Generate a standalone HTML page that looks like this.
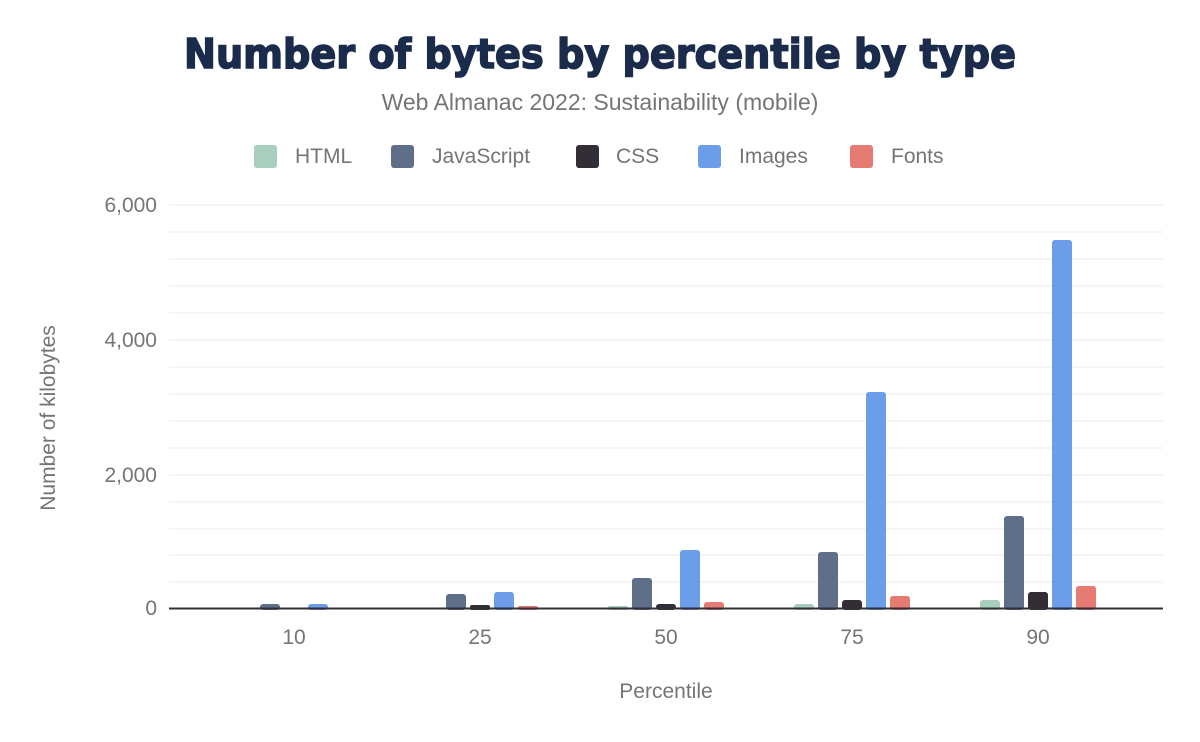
<!DOCTYPE html>
<html><head><meta charset="utf-8"><style>
body{margin:0;background:#fff;}
svg{display:block;font-family:"Liberation Sans",sans-serif;}
</style></head><body>
<svg width="1200" height="742" viewBox="0 0 1200 742" xmlns="http://www.w3.org/2000/svg">
<text x="600" y="68" text-anchor="middle" font-size="41" font-weight="900" fill="#1a2b4b" stroke="#1a2b4b" stroke-width="1.6" style="font-family:'DejaVu Sans','Liberation Sans',sans-serif" textLength="832" lengthAdjust="spacingAndGlyphs">Number of bytes by percentile by type</text>
<text x="600" y="110" text-anchor="middle" font-size="23" fill="#757575">Web Almanac 2022: Sustainability (mobile)</text>
<g font-size="21" fill="#757575">
<rect x="254" y="145" width="23" height="23" rx="3" fill="#a8cfbe"/><text x="295" y="163">HTML</text>
<rect x="391" y="145" width="23" height="23" rx="3" fill="#5f6f89"/><text x="432" y="163">JavaScript</text>
<rect x="576" y="145" width="23" height="23" rx="3" fill="#332d36"/><text x="616" y="163">CSS</text>
<rect x="698" y="145" width="23" height="23" rx="3" fill="#6b9de9"/><text x="739" y="163">Images</text>
<rect x="850" y="145" width="23" height="23" rx="3" fill="#e57b72"/><text x="891" y="163">Fonts</text>
</g>
<g stroke="#f2f2f2" stroke-width="1.5">
<line x1="169" x2="1163" y1="205" y2="205"/><line x1="169" x2="1163" y1="232" y2="232"/><line x1="169" x2="1163" y1="259" y2="259"/><line x1="169" x2="1163" y1="286" y2="286"/><line x1="169" x2="1163" y1="313" y2="313"/><line x1="169" x2="1163" y1="340" y2="340"/><line x1="169" x2="1163" y1="367" y2="367"/><line x1="169" x2="1163" y1="394" y2="394"/><line x1="169" x2="1163" y1="421" y2="421"/><line x1="169" x2="1163" y1="448" y2="448"/><line x1="169" x2="1163" y1="475" y2="475"/><line x1="169" x2="1163" y1="502" y2="502"/><line x1="169" x2="1163" y1="529" y2="529"/><line x1="169" x2="1163" y1="555" y2="555"/><line x1="169" x2="1163" y1="582" y2="582"/>
</g>
<g font-size="21" fill="#757575" text-anchor="end">
<text x="157" y="212">6,000</text><text x="157" y="347">4,000</text><text x="157" y="482">2,000</text><text x="157" y="615">0</text>
</g>
<text transform="translate(55,418) rotate(-90)" text-anchor="middle" font-size="21" fill="#757575">Number of kilobytes</text>
<g>
<rect x="260" y="604" width="20" height="6" rx="3" fill="#5f6f89"/>
<rect x="308" y="604" width="20" height="6" rx="3" fill="#6b9de9"/>
<rect x="446" y="594" width="20" height="16" rx="3" fill="#5f6f89"/>
<rect x="470" y="605" width="20" height="5" rx="2" fill="#332d36"/>
<rect x="494" y="592" width="20" height="18" rx="3" fill="#6b9de9"/>
<rect x="518" y="606" width="20" height="4" rx="2" fill="#e57b72"/>
<rect x="608" y="606" width="20" height="4" rx="2" fill="#a8cfbe"/>
<rect x="632" y="578" width="20" height="32" rx="3" fill="#5f6f89"/>
<rect x="656" y="604" width="20" height="6" rx="3" fill="#332d36"/>
<rect x="680" y="550" width="20" height="60" rx="3" fill="#6b9de9"/>
<rect x="704" y="602" width="20" height="8" rx="3" fill="#e57b72"/>
<rect x="794" y="604" width="20" height="6" rx="3" fill="#a8cfbe"/>
<rect x="818" y="552" width="20" height="58" rx="3" fill="#5f6f89"/>
<rect x="842" y="600" width="20" height="10" rx="3" fill="#332d36"/>
<rect x="866" y="392" width="20" height="218" rx="3" fill="#6b9de9"/>
<rect x="890" y="596" width="20" height="14" rx="3" fill="#e57b72"/>
<rect x="980" y="600" width="20" height="10" rx="3" fill="#a8cfbe"/>
<rect x="1004" y="516" width="20" height="94" rx="3" fill="#5f6f89"/>
<rect x="1028" y="592" width="20" height="18" rx="3" fill="#332d36"/>
<rect x="1052" y="240" width="20" height="370" rx="3" fill="#6b9de9"/>
<rect x="1076" y="586" width="20" height="24" rx="3" fill="#e57b72"/>
</g>
<line x1="169" x2="1163" y1="608.5" y2="608.5" stroke="#332d36" stroke-width="2"/>
<g font-size="21" fill="#757575" text-anchor="middle">
<text x="294" y="644">10</text><text x="480" y="644">25</text><text x="666" y="644">50</text><text x="852" y="644">75</text><text x="1038" y="644">90</text>
</g>
<text x="666" y="698" text-anchor="middle" font-size="21" fill="#757575">Percentile</text>
</svg>
</body></html>
